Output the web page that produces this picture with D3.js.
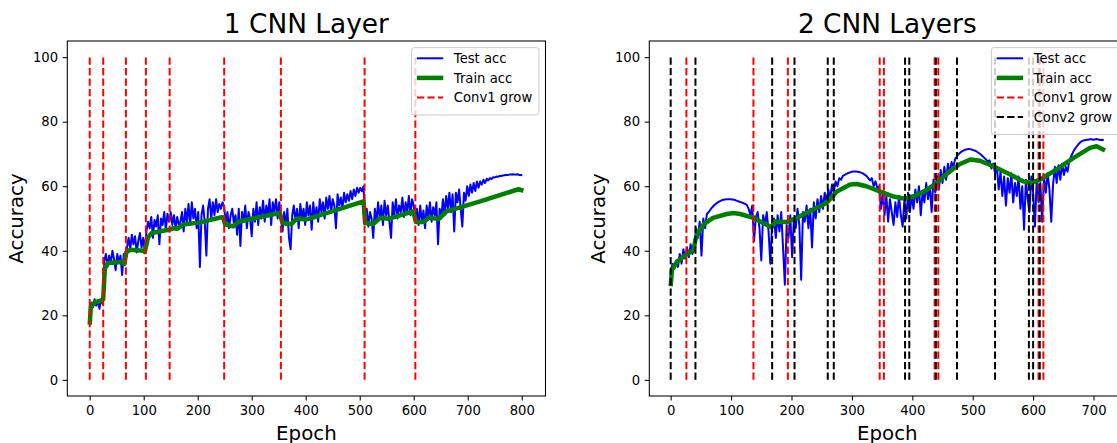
<!DOCTYPE html>
<html><head><meta charset="utf-8">
<script src="https://cdn.jsdelivr.net/npm/d3@7"></script>
<style>
html,body{margin:0;padding:0;background:#fff;}
text{font-family:"DejaVu Sans",sans-serif;fill:#000;}
</style></head>
<body>
<svg id="chart" width="1117" height="443"></svg>
<script>
// ---------------- DATA ----------------
const titles = ["1 CNN Layer", "2 CNN Layers"];
const xLabel = "Epoch";
const yLabel = "Accuracy";
const yTicks = [0, 20, 40, 60, 80, 100];
const leftXTicks = [0, 100, 200, 300, 400, 500, 600, 700, 800];
const rightXTicks = [0, 100, 200, 300, 400, 500, 600, 700];
const legendLabels = ["Test acc", "Train acc", "Conv1 grow", "Conv2 grow"];

const testStep = 3;
const leftTest = [
21.5,24,22.5,25,23,24.5,22,25,23.5,
37,39,35,38.5,36,40,37.5,34,39,36.5,38.5,32.5,39,37,
41,44,40.5,45,42,44.5,39.5,43,45.5,41,44,40,
46,49,47,50.5,44,49.5,47.5,51,42,50,48,52,46.5,51.5,49,
52,48,51,47,50.5,48,49,52,46,53,49,54.5,48,55,50,53,47,52,35,51,
54,49,38.5,53,56,50,55,51,56,52,54.5,53,55,53.5,
48,52,47,51,53,48.5,51,45,53,41.5,52,49,54,47,52,50,44.5,53,49,55,
48,53.5,50,55.5,49,54,51,56,48,55,52,56,50,55,
51,46,52,48,53,44,40.5,51,54,49,53,47,54.5,50,53,48,55,51,54,46.5,
55,50,53.5,49,56,52,55,50,56.5,53,57,52,56,54,47,57.5,54,56.5,53,58,
55,57.5,55.5,58.5,56,59,57,59.5,58,59.5,58.5,60,
49,53,47.5,52,50,44,53,49,55,50,54,48,55.5,51,54,49,44,55,51,56,
50,54,52,56.5,50.5,55,52,57,51,56,54,
50,53,48,54,49,52.5,47,54,50,55,49,53.5,51,55,42,53,50,56,51,57,
53,58,52,57.5,46,58,55,59,53,47.5,58,55.5,60,57,60.5,58,61,58.5,61.5,59.5,
61.5,60.5,62,61,62.3,61.8,62.5,62.2,62.8,62.7,63,62.9,63.2,63.2,63.3,63.4,63.5,63.5,63.6,63.6,
63.7,63.6,63.6,63.7,63.5,63.5,63.4];
const rightTest = [
33,36,34.5,37,35,39,36,40.5,37.5,41,38,42,39,41,
47,44,49,38.5,50,47,51.5,
52,52.8,53.5,54.1,54.6,55,55.3,55.6,55.8,55.9,56,56,56,55.9,55.8,55.6,55.4,55.2,55,54.8,54.5,54.2,
53,51,54,43,50.5,52,47,37,51,48,52,46,36,49,
50,44,51,46,52,41,29.5,48,44,51,38,50,47,53,
48,31,52,49,54,47,53,41,55,50,56,52,57,53,58,55,
59,56,60.5,58,61.5,60,62.5,62,63.2,63.5,
63.8,64.1,64.3,64.5,64.6,64.6,64.5,64.4,64.2,64,63.6,63.2,62.5,61.8,
62.5,60,61.5,59.5,60,
53,58,51,57,49,56,52,48,55,50.5,57,51,47.5,56,50,58,52,57,
53,59,55,60,51,58,55,61,56,60,52,62,58,
63,59,65,61,66,62,67,64,67.5,66,
68.5,69.3,70,70.5,70.9,71.2,71.4,71.5,71.5,71.4,71.2,71,70.7,70.3,69.9,69.4,68.8,68.3,67.6,
68,65.5,67,64,66,
59,64.5,57,63,54,62.5,58,64,55,61,57,63,53,60,46.5,62,56,52,63,58,
47.5,62,55,61,49,63,58,
64,59,49,60.5,66,61,66.5,62,67,63.5,66,64.5,
68,69.3,70.5,71.5,72.3,73,73.6,74,
74.2,74.3,74.4,74.5,74.6,74.4,74.5,74.6,74.5,74.3,74.4,74.2];

// train accuracy key points [epoch, value]
const leftTrainEpochs = [0,2,10,22,25,28,34,62,64,68,75,99,102,108,115,136,147,155,162,173,204,244,247,251,266,275,291,352,357,374,383,402,507,510,525,538,553,599,604,618,629,646,661,723,785,794,803];
const leftTrainValues = [17.1,22.7,24.1,24.6,25.0,34.6,36.2,36.5,35.9,39.6,40.3,40.0,39.6,44.2,45.5,46.2,46.5,47.0,46.8,48.1,48.8,50.4,50.2,48.1,47.6,48.9,49.6,51.7,48.6,48.3,50.0,49.7,55.3,48.6,48.3,50.2,49.9,52.2,48.9,48.9,50.3,49.8,52.2,55.3,58.6,59.1,58.6];
const rightTrainEpochs = [0,2,10,24,38,41,45,54,70,93,104,115,137,153,167,172,192,209,231,258,275,297,308,324,346,369,388,407,424,440,462,479,496,512,534,562,584,595,611,639,667,694,705,719];
const rightTrainValues = [29.0,34.0,36.5,38.6,40.3,43.5,45.5,48.1,50.2,51.4,51.7,51.4,50.2,48.6,47.3,49.1,48.9,50.2,52.3,54.8,58.4,60.5,60.7,60.0,58.4,56.8,56.1,57.2,58.9,61.0,64.6,66.9,68.3,67.9,66.2,63.6,61.5,61.0,62.0,65.2,68.8,71.9,72.4,71.1];

// growth events (epochs)
const leftConv1Grow = [0,25,67,104,148,249,354,509,603];
const rightConv1Grow = [26,137,194,346,353,437,443,609,617];
const rightConv2Grow = [0,41,168,205,260,270,388,395,439,474,537,593,600,611];
const growRange = [0, 100];

// ---------------- DRAW ----------------
const svg = d3.select("#chart");
svg.append("rect").attr("width",1117).attr("height",443).attr("fill","#fff");

const PT = 1.32; // px per point
const tickFont = 10*PT, labelFont = 15*PT, titleFont = 20*PT, legFont = 10*PT;
const y = d3.scaleLinear().domain([-5,105]).range([396,41]);

function panel(opt){
  const x = d3.scaleLinear().domain(opt.xDomain).range(opt.xRange);
  const g = svg.append("g");
  const [x0,x1] = opt.xRange, [yb,yt] = y.range();
  const clipId = "clip"+opt.id;
  svg.append("clipPath").attr("id",clipId).append("rect")
    .attr("x",x0).attr("y",yt).attr("width",x1-x0).attr("height",yb-yt);
  const plot = g.append("g").attr("clip-path",`url(#${clipId})`);

  const line = d3.line().x(d=>x(d[0])).y(d=>y(d[1]));
  const testPts = opt.test.map((v,i)=>[i*testStep, v]);
  plot.append("path").attr("d",line(testPts)).attr("fill","none")
    .attr("stroke","#0000ff").attr("stroke-width",2).attr("stroke-linejoin","round");
  const trainPts = opt.trainE.map((e,i)=>[e, opt.trainV[i]]);
  plot.append("path").attr("d",line(trainPts)).attr("fill","none")
    .attr("stroke","#008000").attr("stroke-width",4.5).attr("stroke-linejoin","round");

  opt.grows.forEach(gr=>{
    plot.selectAll(null).data(gr.epochs).enter().append("line")
      .attr("x1",d=>x(d)).attr("x2",d=>x(d))
      .attr("y1",y(growRange[0])).attr("y2",y(growRange[1]))
      .attr("stroke",gr.color).attr("stroke-width",2).attr("stroke-dasharray","7.3,3.2");
  });

  // axes
  const xa = g.append("g").attr("transform",`translate(0,${yb})`)
    .call(d3.axisBottom(x).tickValues(opt.xTicks).tickFormat(d3.format("d")).tickSize(3.5*PT).tickPadding(3.5*PT));
  const ya = g.append("g").attr("transform",`translate(${x0},0)`)
    .call(d3.axisLeft(y).tickValues(yTicks).tickFormat(d3.format("d")).tickSize(3.5*PT).tickPadding(3.5*PT));
  [xa,ya].forEach(a=>{
    a.select(".domain").remove();
    a.selectAll("line").attr("stroke","#000").attr("stroke-width",1.05);
    a.selectAll("text").attr("font-size",tickFont).attr("font-family","DejaVu Sans").attr("fill","#000");
  });
  g.append("rect").attr("x",x0).attr("y",yt).attr("width",x1-x0).attr("height",yb-yt)
    .attr("fill","none").attr("stroke","#000").attr("stroke-width",1.05);

  const cx = (x0+x1)/2;
  g.append("text").attr("x",cx).attr("y",33).attr("text-anchor","middle")
    .attr("font-size",titleFont).text(opt.title);
  g.append("text").attr("x",cx).attr("y",439.5).attr("text-anchor","middle")
    .attr("font-size",labelFont).text(xLabel);
  g.append("text").attr("transform",`translate(${opt.yLabelX},${(yb+yt)/2}) rotate(-90)`)
    .attr("text-anchor","middle").attr("font-size",labelFont).text(yLabel);

  // legend
  const items = opt.legend;
  const pad = 0.4*legFont, rowH = 19.6;
  const lw = 127.3, lh = 2*pad + rowH*items.length - 0.3*legFont + 2;
  const lx = x1 - 0.5*legFont - lw, ly = yt + 0.5*legFont;
  const lg = g.append("g");
  lg.append("rect").attr("x",lx).attr("y",ly).attr("width",lw).attr("height",lh)
    .attr("rx",2.5).attr("fill","#fff").attr("fill-opacity",0.8)
    .attr("stroke","#cccccc").attr("stroke-width",1);
  items.forEach((it,i)=>{
    const cy = ly + 10.7 + i*rowH;
    const hx = lx + pad;
    lg.append("line").attr("x1",hx).attr("x2",hx+2*legFont).attr("y1",cy).attr("y2",cy)
      .attr("stroke",it.color).attr("stroke-width",it.width)
      .attr("stroke-dasharray",it.dash||null);
    lg.append("text").attr("x",hx+2*legFont+0.8*legFont).attr("y",cy+0.36*legFont)
      .attr("font-size",legFont).text(it.label);
  });
}

const legTest = {label:legendLabels[0], color:"#0000ff", width:2};
const legTrain = {label:legendLabels[1], color:"#008000", width:4.5};
const legC1 = {label:legendLabels[2], color:"#ff0000", width:2, dash:"7.3,3.2"};
const legC2 = {label:legendLabels[3], color:"#000000", width:2, dash:"7.3,3.2"};

panel({id:"L", title:titles[0], xDomain:[-41.5,844], xRange:[67.3,545.5], xTicks:leftXTicks,
  test:leftTest, trainE:leftTrainEpochs, trainV:leftTrainValues,
  grows:[{epochs:leftConv1Grow,color:"#ff0000"}],
  legend:[legTest,legTrain,legC1], yLabelX:23});
panel({id:"R", title:titles[1], xDomain:[-35.4,752.6], xRange:[649.3,1125.3], xTicks:rightXTicks,
  test:rightTest, trainE:rightTrainEpochs, trainV:rightTrainValues,
  grows:[{epochs:rightConv1Grow,color:"#ff0000"},{epochs:rightConv2Grow,color:"#000000"}],
  legend:[legTest,legTrain,legC1,legC2], yLabelX:605});
</script>
</body></html>
